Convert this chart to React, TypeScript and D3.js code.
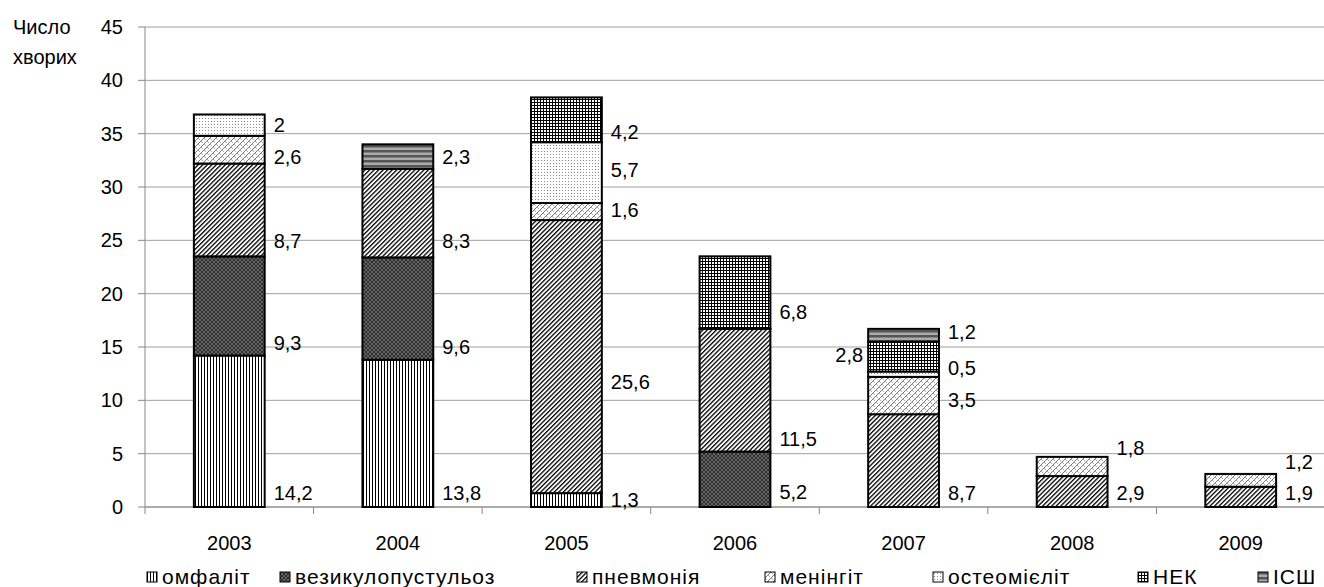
import React from 'react';
import * as d3 from 'd3';

// Categories and series
const years = ['2003', '2004', '2005', '2006', '2007', '2008', '2009'];
const diseases = ['омфаліт', 'везикулопустульоз', 'пневмонія', 'менінгіт', 'остеомієліт', 'НЕК', 'ІСШ'];
const omphalitis = [14.2, 13.8, 1.3, 0, 0, 0, 0];
const vesiculopustulosis = [9.3, 9.6, 0, 5.2, 0, 0, 0];
const pneumonia = [8.7, 8.3, 25.6, 11.5, 8.7, 2.9, 1.9];
const meningitis = [2.6, 0, 1.6, 0, 3.5, 1.8, 1.2];
const osteomyelitis = [2, 0, 5.7, 0, 0.5, 0, 0];
const nec = [0, 0, 4.2, 6.8, 2.8, 0, 0];
const sepsis = [0, 2.3, 0, 0, 1.2, 0, 0];
const yTicks = [0, 5, 10, 15, 20, 25, 30, 35, 40, 45];

// Where each value label sits vertically, in axis units (null = no label)
const omphalitisLabelAt = [1.3, 1.3, 0.65, null, null, null, null];
const vesiculoLabelAt = [15.4, 15.0, null, 1.4, null, null, null];
const pneumoniaLabelAt = [24.9, 24.9, 11.7, 6.4, 1.3, 1.3, 1.3];
const meningitisLabelAt = [32.8, null, 27.8, null, 10.0, 5.5, 4.2];
const osteoLabelAt = [35.8, null, 31.6, null, 13.0, null, null];
const necLabelAt = [null, null, 35.2, 18.3, 14.25, null, null];
const sepsisLabelAt = [null, 32.8, null, null, 16.4, null, null];
// labels drawn on the left side of their bar: [year index, series index]
const leftLabels = [[4, 5]];

// Legend entry x positions
const legendX = [147, 280, 577, 765, 933, 1138, 1258];

const seriesValues = [omphalitis, vesiculopustulosis, pneumonia, meningitis, osteomyelitis, nec, sepsis];
const labelAt = [omphalitisLabelAt, vesiculoLabelAt, pneumoniaLabelAt, meningitisLabelAt, osteoLabelAt, necLabelAt, sepsisLabelAt];
const patternIds = ['pVert', 'pDark', 'pDiag', 'pLight', 'pDots', 'pGrid', 'pHoriz'];

const FONT = '"Liberation Sans", Arial, sans-serif';

const W = 1324;
const H = 587;
const plotLeft = 145;
const plotRight = 1325;
const plotTop = 27;
const plotBottom = 507;

const fmt = (v: number) => String(v).replace('.', ',');

export default function App() {
  const rows = years.map((y, i) => {
    const r: Record<string, number | string> = { year: y };
    diseases.forEach((d, k) => (r[d] = seriesValues[k][i]));
    return r;
  });
  const stacked = d3.stack<any>().keys(diseases)(rows);

  const x = d3.scaleBand<string>().domain(years).range([plotLeft, plotRight]).padding(0);
  const y = d3.scaleLinear().domain([0, 45]).range([plotBottom, plotTop]);
  const barW = x.bandwidth() * 0.42;
  const barX = (yr: string) => (x(yr) as number) + (x.bandwidth() - barW) / 2;

  const boundaries = years.map((yr) => x(yr) as number).concat([plotRight]);

  return (
    <svg width={W} height={H} style={{ position: 'absolute', left: 0, top: 0, background: '#fff' }}>
      <defs>
        <pattern id="pVert" patternUnits="userSpaceOnUse" width="3" height="3">
          <rect width="3" height="3" fill="#fff" />
          <rect x="0" width="1" height="3" fill="#000" />
        </pattern>
        <pattern id="pDark" patternUnits="userSpaceOnUse" width="4" height="4">
          <rect width="4" height="4" fill="#303030" />
          <path d="M0,4 L4,0 M0,0 L4,4" stroke="#7a7a7a" strokeWidth="0.7" />
        </pattern>
        <pattern id="pDiag" patternUnits="userSpaceOnUse" width="3.2" height="3.2" patternTransform="rotate(45)">
          <rect width="3.2" height="3.2" fill="#fff" />
          <rect x="0" width="1.3" height="3.2" fill="#000" />
        </pattern>
        <pattern id="pLight" patternUnits="userSpaceOnUse" width="6" height="6">
          <rect width="6" height="6" fill="#fff" />
          <path d="M-1,7 L7,-1" stroke="#555" strokeWidth="0.8" />
          <path d="M0,0 L2,2 M3,3 L5,5" stroke="#888" strokeWidth="0.7" />
        </pattern>
        <pattern id="pDots" patternUnits="userSpaceOnUse" width="3" height="3">
          <rect width="3" height="3" fill="#fff" />
          <rect x="1" y="1" width="1" height="1" fill="#8a8a8a" />
        </pattern>
        <pattern id="pGrid" patternUnits="userSpaceOnUse" width="3" height="3">
          <rect width="3" height="3" fill="#fff" />
          <rect x="0" y="0" width="3" height="1" fill="#000" />
          <rect x="0" y="0" width="1" height="3" fill="#000" />
        </pattern>
        <pattern id="pHoriz" patternUnits="userSpaceOnUse" width="5" height="5">
          <rect width="5" height="5" fill="#ababab" />
          <rect y="0" width="5" height="2.5" fill="#555" />
        </pattern>
      </defs>

      {/* horizontal gridlines */}
      {yTicks.map((t) => (
        <line key={'g' + t} x1={plotLeft} x2={W} y1={y(t)} y2={y(t)} stroke="#a0a0a0" strokeWidth={1} />
      ))}

      {/* y axis */}
      <line x1={plotLeft} x2={plotLeft} y1={plotTop} y2={plotBottom} stroke="#888" strokeWidth={1} />
      {yTicks.map((t) => (
        <g key={'yt' + t}>
          <line x1={plotLeft - 7} x2={plotLeft} y1={y(t)} y2={y(t)} stroke="#888" strokeWidth={1} />
          <text x={123} y={y(t)} dy="0.35em" textAnchor="end" fontFamily={FONT} fontSize={20} fill="#000">
            {t}
          </text>
        </g>
      ))}
      <text x={13} y={34} fontFamily={FONT} fontSize={20} fill="#000">Число</text>
      <text x={13} y={64} fontFamily={FONT} fontSize={20} fill="#000">хворих</text>

      {/* x axis */}
      <line x1={plotLeft} x2={W} y1={plotBottom} y2={plotBottom} stroke="#888" strokeWidth={1} />
      {boundaries.map((b, i) => (
        <line key={'xt' + i} x1={b} x2={b} y1={plotBottom} y2={plotBottom + 7} stroke="#888" strokeWidth={1} />
      ))}
      {years.map((yr) => (
        <text key={'xl' + yr} x={(x(yr) as number) + x.bandwidth() / 2} y={550} textAnchor="middle" fontFamily={FONT} fontSize={20} fill="#000">
          {yr}
        </text>
      ))}

      {/* stacked bars */}
      {stacked.map((s, k) => (
        <g key={'s' + k}>
          {s.map((d, i) =>
            d[1] - d[0] > 0 ? (
              <rect
                key={i}
                x={barX(years[i])}
                y={y(d[1])}
                width={barW}
                height={y(d[0]) - y(d[1])}
                fill={`url(#${patternIds[k]})`}
                stroke="#000"
                strokeWidth={2}
              />
            ) : null
          )}
        </g>
      ))}

      {/* value labels */}
      {seriesValues.map((vals, k) =>
        vals.map((v, i) => {
          const at = labelAt[k][i];
          if (!v || at === null) return null;
          const left = leftLabels.some(([yi, si]) => yi === i && si === k);
          const lx = left ? barX(years[i]) - 5 : barX(years[i]) + barW + 9;
          return (
            <text
              key={'lb' + k + '-' + i}
              x={lx}
              y={y(at)}
              dy="0.35em"
              textAnchor={left ? 'end' : 'start'}
              fontFamily={FONT}
              fontSize={20}
              fill="#000"
            >
              {fmt(v)}
            </text>
          );
        })
      )}

      {/* legend */}
      {diseases.map((d, k) => (
        <g key={'lg' + k} transform={`translate(${legendX[k]},572)`}>
          <rect x={0} y={0} width={10} height={10} fill={`url(#${patternIds[k]})`} stroke="#000" strokeWidth={1} />
          <text x={15} y={12} fontFamily={FONT} fontSize={21} letterSpacing={1} fill="#000">
            {d}
          </text>
        </g>
      ))}
    </svg>
  );
}
